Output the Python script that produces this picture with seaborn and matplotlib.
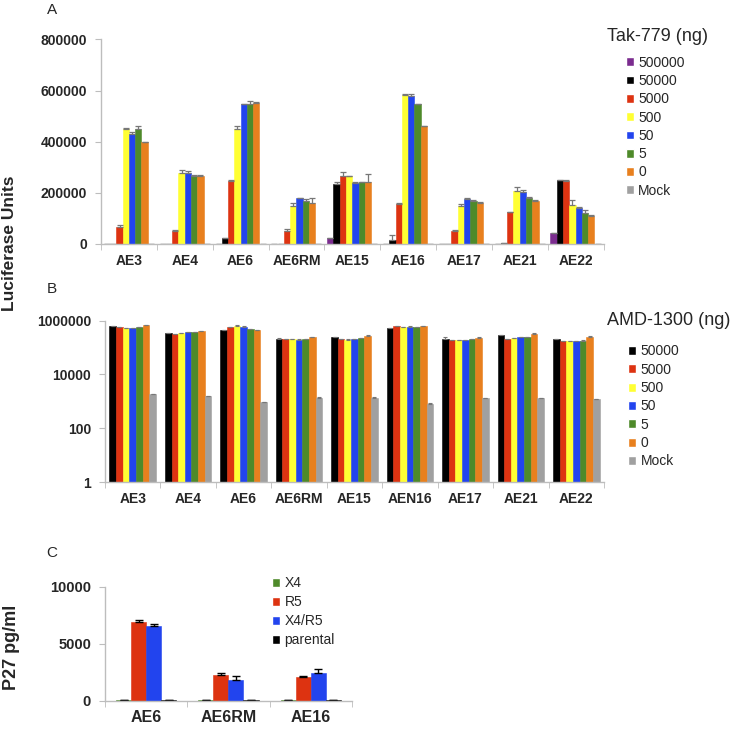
import numpy as np
import pandas as pd
import matplotlib
matplotlib.use("Agg")
import matplotlib.pyplot as plt
import seaborn as sns
from matplotlib.ticker import FixedLocator, NullLocator

sns.set_style("white")
plt.rcParams['font.family'] = ['Liberation Sans', 'DejaVu Sans']

# ---- Panel A: Tak-779 ----
clones_a = ['AE3', 'AE4', 'AE6', 'AE6RM', 'AE15', 'AE16', 'AE17', 'AE21', 'AE22']
doses_a = ['500000', '50000', '5000', '500', '50', '5', '0', 'Mock']
vals_a = {
    '500000': [1000, 500, 500, 500, 25000, 1000, 500, 500, 42000],
    '50000':  [1000, 500, 23500, 500, 233000, 14000, 500, 2000, 251000],
    '5000':   [66000, 52000, 248000, 51000, 264000, 158000, 51000, 124000, 248000],
    '500':    [448000, 276000, 448000, 150000, 264000, 583000, 150000, 206000, 153000],
    '50':     [431000, 276000, 548000, 178000, 237000, 579000, 176000, 203000, 141000],
    '5':      [448000, 265000, 548000, 170000, 242000, 548000, 167000, 180000, 123000],
    '0':      [400000, 264000, 550000, 161000, 243000, 460000, 161000, 167000, 110000],
    'Mock':   [500, 500, 500, 500, 500, 500, 500, 500, 500],
}
err_a = {
    '500000': [0, 0, 0, 0, 0, 0, 0, 0, 0],
    '50000':  [0, 0, 0, 0, 8000, 20000, 0, 0, 0],
    '5000':   [8000, 2000, 4000, 6000, 16000, 3000, 5000, 2000, 2000],
    '500':    [6000, 15000, 15000, 12000, 0, 5000, 5000, 15000, 18000],
    '50':     [6000, 10000, 0, 3000, 6000, 6000, 5000, 8000, 3000],
    '5':      [12000, 6000, 12000, 6000, 2000, 0, 5000, 5000, 8000],
    '0':      [0, 5000, 4000, 18000, 30000, 0, 2000, 6000, 5000],
    'Mock':   [0, 0, 0, 0, 0, 0, 0, 0, 0],
}
colors_a = ['#7B2C8F', '#000000', '#DD3311', '#FFFF33', '#2244EE', '#4E8A2A', '#E8801E', '#A0A0A0']

# ---- Panel B: AMD-1300 ----
clones_b = ['AE3', 'AE4', 'AE6', 'AE6RM', 'AE15', 'AEN16', 'AE17', 'AE21', 'AE22']
doses_b = ['50000', '5000', '500', '50', '5', '0', 'Mock']
vals_b = {
    '50000': [633000, 348000, 450000, 214000, 245000, 533000, 214000, 292000, 207000],
    '5000':  [565000, 318000, 580000, 202000, 207000, 616000, 190000, 207000, 174000],
    '500':   [518000, 348000, 650000, 202000, 196000, 565000, 185000, 220000, 174000],
    '50':    [533000, 368000, 598000, 196000, 207000, 598000, 185000, 240000, 178000],
    '5':     [565000, 379000, 490000, 207000, 220000, 565000, 207000, 240000, 183000],
    '0':     [670000, 412000, 450000, 240000, 276000, 616000, 233000, 327000, 245000],
    'Mock':  [1800, 1600, 910, 1390, 1390, 810, 1310, 1310, 1230],
}
err_b = {
    '50000': [10000, 5000, 10000, 5000, 5000, 10000, 40000, 10000, 5000],
    '5000':  [10000, 5000, 10000, 5000, 5000, 10000, 5000, 5000, 5000],
    '500':   [10000, 5000, 30000, 5000, 5000, 10000, 5000, 5000, 5000],
    '50':    [10000, 5000, 20000, 5000, 5000, 10000, 5000, 5000, 5000],
    '5':     [10000, 5000, 10000, 5000, 5000, 10000, 5000, 5000, 5000],
    '0':     [20000, 10000, 10000, 10000, 15000, 10000, 10000, 20000, 15000],
    'Mock':  [20, 20, 20, 20, 20, 60, 20, 20, 20],
}
colors_b = ['#000000', '#DD3311', '#FFFF33', '#2244EE', '#4E8A2A', '#E8801E', '#A0A0A0']

# ---- Panel C: P27 ----
clones_c = ['AE6', 'AE6RM', 'AE16']
cells_c = ['X4', 'R5', 'X4/R5', 'parental']
vals_c = {
    'X4':       [20, 20, 20],
    'R5':       [6870, 2220, 2100],
    'X4/R5':    [6550, 1780, 2400],
    'parental': [40, 40, 40],
}
err_c = {
    'X4':       [0, 0, 0],
    'R5':       [200, 250, 100],
    'X4/R5':    [200, 400, 350],
    'parental': [0, 0, 0],
}
colors_c = ['#4E8A2A', '#DD3311', '#2244EE', '#000000']


def long_table(clones, levels, vals):
    rows = []
    for lev in levels:
        for c, v in zip(clones, vals[lev]):
            rows.append({'clone': c, 'level': lev, 'value': v})
    return pd.DataFrame(rows)


def add_errors(ax, levels, errs, color, lw=0.9, cap=2):
    for cont, lev in zip(ax.containers, levels):
        # fill the antialiasing seams between neighbouring bars
        for b in cont:
            b.set_edgecolor(b.get_facecolor())
            b.set_linewidth(0.4)
        xs = [b.get_x() + b.get_width() / 2 for b in cont]
        ys = [b.get_height() for b in cont]
        e = np.array(errs[lev], dtype=float)
        ax.errorbar(xs, ys, yerr=[np.zeros_like(e), e], fmt='none',
                    ecolor=color, elinewidth=lw, capsize=cap, capthick=lw)


def style_axis(ax, n):
    for s in ['top', 'right']:
        ax.spines[s].set_visible(False)
    for s in ['left', 'bottom']:
        ax.spines[s].set_color('#BDBDBD')
        ax.spines[s].set_linewidth(1)
    ax.set_xlim(-0.5, n - 0.5)
    ax.xaxis.set_minor_locator(FixedLocator(np.arange(n + 1) - 0.5))
    ax.tick_params(axis='x', which='major', length=0, pad=7)
    ax.tick_params(axis='x', which='minor', length=4, color='#BDBDBD', bottom=True)
    ax.tick_params(axis='y', which='major', length=4, color='#BDBDBD', left=True, pad=6)
    ax.set_xlabel('')
    ax.set_ylabel('')
    for lab in ax.get_xticklabels() + ax.get_yticklabels():
        lab.set_fontweight('bold')


def side_legend(ax, x, y, spacing=0.31):
    ax.legend(loc='upper left', bbox_to_anchor=(x, y), bbox_transform=fig.transFigure,
              frameon=False, fontsize=10, handlelength=0.6, handleheight=0.6,
              handletextpad=0.3, labelspacing=spacing, borderpad=0, borderaxespad=0)


fig = plt.figure(figsize=(7.32, 7.32), dpi=100)

# Panel A
axA = fig.add_axes([0.138, 0.6667, 0.6865, 0.2794])
dfA = long_table(clones_a, doses_a, vals_a)
sns.barplot(data=dfA, x='clone', y='value', hue='level', hue_order=doses_a,
            palette=colors_a, saturation=1, width=0.9, errorbar=None, ax=axA)
add_errors(axA, doses_a, err_a, '#777777')
axA.set_ylim(0, 800000)
axA.set_yticks([0, 200000, 400000, 600000, 800000])
axA.set_yticklabels(['0', '200000', '400000', '600000', '800000'], fontsize=10)
axA.tick_params(axis='x', labelsize=10)
style_axis(axA, len(clones_a))
side_legend(axA, 0.855, 0.924)

# Panel B (log scale applied after the bars are drawn)
axB = fig.add_axes([0.1434, 0.3415, 0.6817, 0.2204])
dfB = long_table(clones_b, doses_b, vals_b)
sns.barplot(data=dfB, x='clone', y='value', hue='level', hue_order=doses_b,
            palette=colors_b, saturation=1, width=0.84, errorbar=None, ax=axB)
add_errors(axB, doses_b, err_b, '#777777', lw=0.8, cap=1.5)
axB.set_yscale('log')
axB.set_ylim(1, 1000000)
axB.yaxis.set_major_locator(FixedLocator([1, 100, 10000, 1000000]))
axB.yaxis.set_minor_locator(NullLocator())
axB.set_yticklabels(['1', '100', '10000', '1000000'], fontsize=10)
axB.tick_params(axis='x', labelsize=10)
style_axis(axB, len(clones_b))
side_legend(axB, 0.858, 0.5294)

# Panel C
axC = fig.add_axes([0.1434, 0.0428, 0.3374, 0.1557])
dfC = long_table(clones_c, cells_c, vals_c)
sns.barplot(data=dfC, x='clone', y='value', hue='level', hue_order=cells_c,
            palette=colors_c, saturation=1, width=0.73, errorbar=None, ax=axC)
add_errors(axC, cells_c, err_c, '#000000', lw=1.0, cap=3)
axC.set_ylim(0, 10000)
axC.set_yticks([0, 5000, 10000])
axC.set_yticklabels(['0', '5000', '10000'], fontsize=10.5)
axC.tick_params(axis='x', labelsize=11.5)
style_axis(axC, len(clones_c))
side_legend(axC, 0.3716, 0.2131, spacing=0.36)

# legend titles, panel letters and axis titles
fig.text(0.829, 0.9495, 'Tak-779 (ng)', fontsize=13, ha='left', va='center')
fig.text(0.829, 0.5628, 'AMD-1300 (ng)', fontsize=13, ha='left', va='center')
fig.text(0.071, 0.986, 'A', fontsize=11, ha='center', va='center')
fig.text(0.071, 0.605, 'B', fontsize=11, ha='center', va='center')
fig.text(0.071, 0.245, 'C', fontsize=11, ha='center', va='center')
fig.text(0.013, 0.668, 'Luciferase Units', fontsize=12.5, fontweight='bold',
         rotation=90, ha='center', va='center')
fig.text(0.016, 0.115, 'P27 pg/ml', fontsize=13, fontweight='bold',
         rotation=90, ha='center', va='center')

fig.savefig('out.png', dpi=100)
